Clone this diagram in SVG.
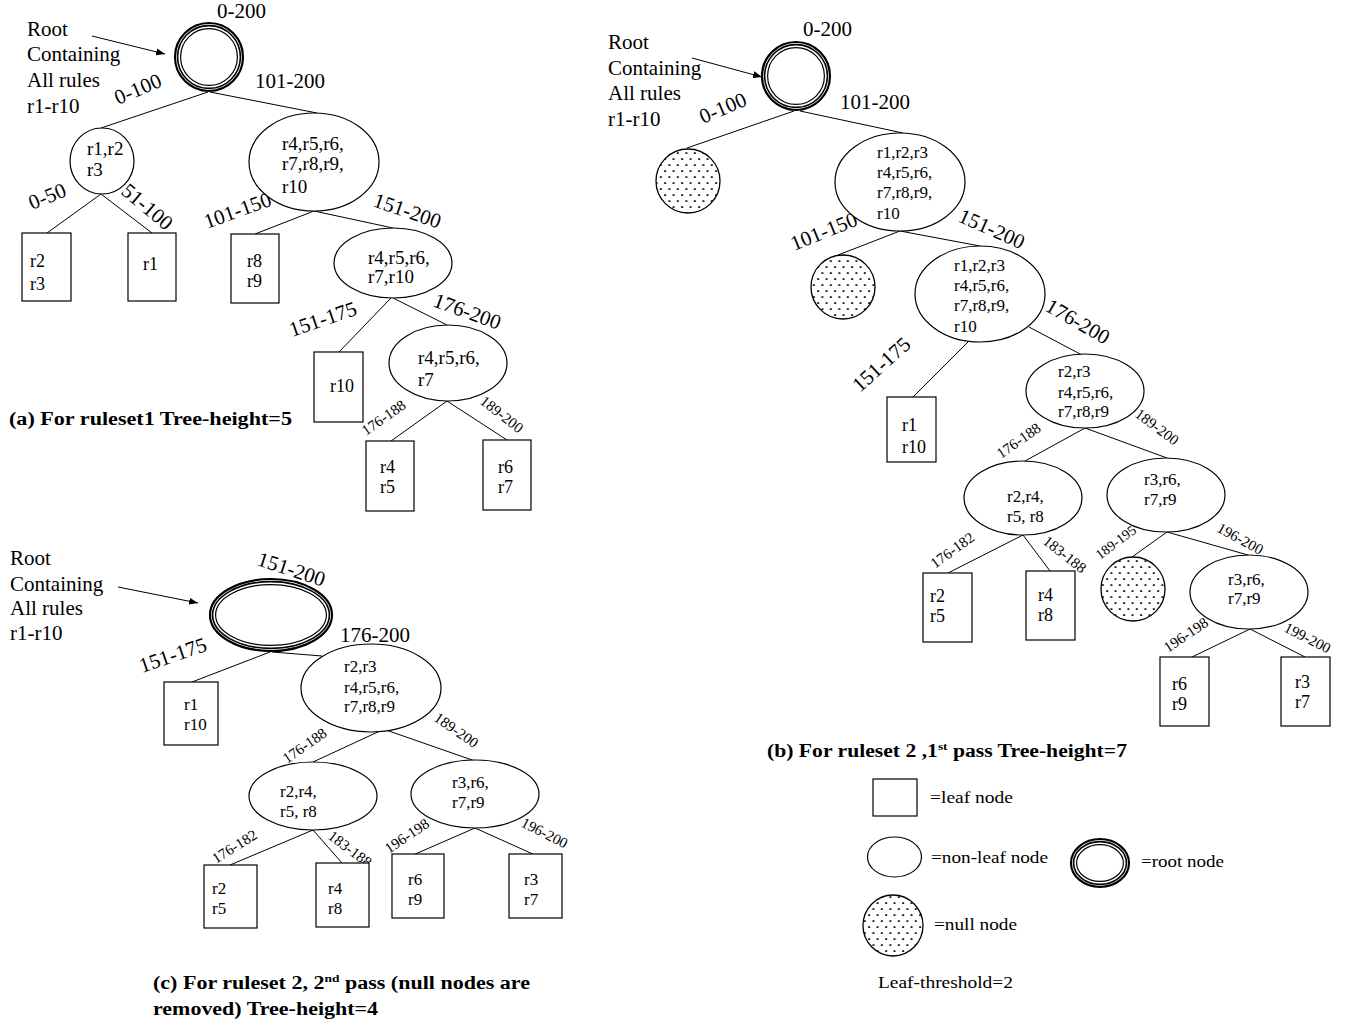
<svg xmlns="http://www.w3.org/2000/svg" width="1362" height="1027" viewBox="0 0 1362 1027">
<style>
text{font-family:"Liberation Serif","Times New Roman",serif;fill:#000}
.lbl{font-size:21px}
.sm{font-size:15px}
.xs{font-size:14px}
.na{font-size:19px}
.nb{font-size:17px}
.lf{font-size:18px}
.cap{font-size:18px;font-weight:bold}
.leg{font-size:17px}
.edge{stroke:#000;stroke-width:1;fill:none}
.node{fill:#fff;stroke:#000;stroke-width:1.2}
.null{fill:url(#dots);stroke:#000;stroke-width:1.3}
.r1{fill:#fff;stroke:#000;stroke-width:2.2}
.r2{fill:none;stroke:#000;stroke-width:1.6}
.r3{fill:none;stroke:#000;stroke-width:1.2}
</style>
<defs>
<pattern id="dots" patternUnits="userSpaceOnUse" width="8.5" height="12">
<rect width="8.5" height="12" fill="#fff"/>
<rect x="1.2" y="2.2" width="1.8" height="1.8" fill="#000"/>
<rect x="5.45" y="8.2" width="1.8" height="1.8" fill="#000"/>
</pattern>
<marker id="arr" markerUnits="userSpaceOnUse" markerWidth="9" markerHeight="7" refX="9" refY="3.5" orient="auto">
<path d="M0,0 L9,3.5 L0,7 z" fill="#000"/>
</marker>
</defs>
<rect width="1362" height="1027" fill="#fff"/>

<!-- ============ connectors ============ -->
<g id="connectors">
<!-- (a) -->
<line class="edge" x1="208" y1="92" x2="101" y2="128"/>
<line class="edge" x1="210" y1="92" x2="317" y2="113"/>
<line class="edge" x1="101" y1="194" x2="47" y2="233"/>
<line class="edge" x1="101" y1="194" x2="152" y2="233"/>
<line class="edge" x1="314" y1="211" x2="255" y2="234"/>
<line class="edge" x1="314" y1="211" x2="393" y2="228"/>
<line class="edge" x1="391" y1="298" x2="339" y2="352"/>
<line class="edge" x1="393" y1="298" x2="447" y2="325"/>
<line class="edge" x1="447" y1="401" x2="391" y2="441"/>
<line class="edge" x1="447" y1="401" x2="507" y2="440"/>
<line class="edge" x1="92" y1="36" x2="165" y2="54" marker-end="url(#arr)"/>
<!-- (b) -->
<line class="edge" x1="794" y1="111" x2="687" y2="148"/>
<line class="edge" x1="800" y1="111" x2="903" y2="133"/>
<line class="edge" x1="900" y1="231" x2="838" y2="255"/>
<line class="edge" x1="900" y1="231" x2="980" y2="246"/>
<line class="edge" x1="968" y1="342" x2="913" y2="397"/>
<line class="edge" x1="1029" y1="327" x2="1082" y2="355"/>
<line class="edge" x1="1085" y1="428" x2="1025" y2="461"/>
<line class="edge" x1="1085" y1="428" x2="1167" y2="458"/>
<line class="edge" x1="1023" y1="535" x2="948" y2="573"/>
<line class="edge" x1="1023" y1="535" x2="1050" y2="571"/>
<line class="edge" x1="1167" y1="532" x2="1132" y2="557"/>
<line class="edge" x1="1167" y1="532" x2="1248" y2="555"/>
<line class="edge" x1="1250" y1="629" x2="1192" y2="657"/>
<line class="edge" x1="1250" y1="629" x2="1305" y2="657"/>
<line class="edge" x1="692" y1="58" x2="762" y2="77" marker-end="url(#arr)"/>
<!-- (c) -->
<line class="edge" x1="270" y1="652" x2="192" y2="682"/>
<line class="edge" x1="272" y1="652" x2="322" y2="656"/>
<line class="edge" x1="380" y1="731" x2="313" y2="762"/>
<line class="edge" x1="386" y1="730" x2="475" y2="761"/>
<line class="edge" x1="313" y1="830" x2="230" y2="865"/>
<line class="edge" x1="313" y1="830" x2="342" y2="863"/>
<line class="edge" x1="475" y1="828" x2="413" y2="855"/>
<line class="edge" x1="475" y1="828" x2="535" y2="855"/>
<line class="edge" x1="118" y1="587" x2="198" y2="603" marker-end="url(#arr)"/>

<!-- edge labels (a) -->
<text class="lbl" x="217" y="18">0-200</text>
<text class="lbl" x="255" y="88">101-200</text>
<text class="lbl" transform="translate(118,105) rotate(-23)">0-100</text>
<text class="lbl" transform="translate(32,210) rotate(-22)">0-50</text>
<text class="lbl" transform="translate(120,193) rotate(40)">51-100</text>
<text class="lbl" transform="translate(207,229) rotate(-20)">101-150</text>
<text class="lbl" transform="translate(372,206) rotate(19)">151-200</text>
<text class="lbl" transform="translate(292,337) rotate(-19)">151-175</text>
<text class="lbl" transform="translate(432,306) rotate(20)">176-200</text>
<text class="sm" transform="translate(366,436) rotate(-35)">176-188</text>
<text class="sm" transform="translate(479,403) rotate(38)">189-200</text>
<!-- edge labels (b) -->
<text class="lbl" x="803" y="36">0-200</text>
<text class="lbl" x="840" y="109">101-200</text>
<text class="lbl" transform="translate(703,124) rotate(-23)">0-100</text>
<text class="lbl" transform="translate(794,251) rotate(-22)">101-150</text>
<text class="lbl" transform="translate(957,221) rotate(24)">151-200</text>
<text class="lbl" transform="translate(860,393) rotate(-42)">151-175</text>
<text class="lbl" transform="translate(1044,310) rotate(30)">176-200</text>
<text class="sm" transform="translate(1001,459) rotate(-35)">176-188</text>
<text class="sm" transform="translate(1134,416) rotate(37)">189-200</text>
<text class="sm" transform="translate(935,569) rotate(-36)">176-182</text>
<text class="sm" transform="translate(1042,543) rotate(38)">183-188</text>
<text class="xs" transform="translate(1100,560) rotate(-37)">189-195</text>
<text class="sm" transform="translate(1216,531) rotate(29)">196-200</text>
<text class="sm" transform="translate(1168,653) rotate(-34)">196-198</text>
<text class="sm" transform="translate(1283,631) rotate(27)">199-200</text>
<!-- edge labels (c) -->
<text class="lbl" transform="translate(256,565) rotate(18)">151-200</text>
<text class="lbl" x="340" y="642">176-200</text>
<text class="lbl" transform="translate(142,673) rotate(-19)">151-175</text>
<text class="sm" transform="translate(287,764) rotate(-35)">176-188</text>
<text class="sm" transform="translate(433,720) rotate(35)">189-200</text>
<text class="sm" transform="translate(216,864) rotate(-32)">176-182</text>
<text class="sm" transform="translate(327,838) rotate(37)">183-188</text>
<text class="sm" transform="translate(389,854) rotate(-34)">196-198</text>
<text class="sm" transform="translate(520,826) rotate(27)">196-200</text>
</g>

<!-- ============ tree (a) ============ -->
<g id="a-rootnote">
<text class="lbl" x="27" y="36">Root</text>
<text class="lbl" x="27" y="61">Containing</text>
<text class="lbl" x="27" y="87">All rules</text>
<text class="lbl" x="27" y="113">r1-r10</text>
</g>
<g id="a-root">
<circle class="r1" cx="209" cy="57" r="34"/>
<circle class="r2" cx="209" cy="57" r="31.4"/>
<circle class="r3" cx="209" cy="57" r="28.4"/>
</g>
<g id="a-n1">
<ellipse class="node" cx="102" cy="161" rx="32" ry="33"/>
<text class="na" x="87" y="155">r1,r2</text>
<text class="na" x="87" y="176">r3</text>
</g>
<g id="a-n2">
<ellipse class="node" cx="314" cy="162" rx="65" ry="49"/>
<text class="na" x="282" y="150">r4,r5,r6,</text>
<text class="na" x="282" y="170">r7,r8,r9,</text>
<text class="na" x="282" y="193">r10</text>
</g>
<g id="a-leaf-r2r3">
<rect class="node" x="22" y="233" width="49" height="68"/>
<text class="lf" x="30" y="267">r2</text>
<text class="lf" x="30" y="290">r3</text>
</g>
<g id="a-leaf-r1">
<rect class="node" x="128" y="233" width="48" height="68"/>
<text class="lf" x="143" y="270">r1</text>
</g>
<g id="a-leaf-r8r9">
<rect class="node" x="231" y="234" width="48" height="69"/>
<text class="lf" x="247" y="267">r8</text>
<text class="lf" x="247" y="287">r9</text>
</g>
<g id="a-n3">
<ellipse class="node" cx="393" cy="263" rx="59" ry="35"/>
<text class="na" x="368" y="264">r4,r5,r6,</text>
<text class="na" x="368" y="283">r7,r10</text>
</g>
<g id="a-leaf-r10">
<rect class="node" x="314" y="352" width="49" height="70"/>
<text class="lf" x="330" y="392">r10</text>
</g>
<g id="a-n4">
<ellipse class="node" cx="448" cy="363" rx="59" ry="38"/>
<text class="na" x="418" y="364">r4,r5,r6,</text>
<text class="na" x="418" y="386">r7</text>
</g>
<g id="a-leaf-r4r5">
<rect class="node" x="366" y="441" width="48" height="70"/>
<text class="lf" x="380" y="473">r4</text>
<text class="lf" x="380" y="493">r5</text>
</g>
<g id="a-leaf-r6r7">
<rect class="node" x="483" y="440" width="48" height="70"/>
<text class="lf" x="498" y="473">r6</text>
<text class="lf" x="498" y="493">r7</text>
</g>
<text class="cap" x="9" y="425" textLength="283" lengthAdjust="spacingAndGlyphs">(a) For ruleset1 Tree-height=5</text>

<!-- ============ tree (b) ============ -->
<g id="b-rootnote">
<text class="lbl" x="608" y="49">Root</text>
<text class="lbl" x="608" y="75">Containing</text>
<text class="lbl" x="608" y="100">All rules</text>
<text class="lbl" x="608" y="126">r1-r10</text>
</g>
<g id="b-root">
<circle class="r1" cx="796" cy="76" r="34"/>
<circle class="r2" cx="796" cy="76" r="31.4"/>
<circle class="r3" cx="796" cy="76" r="28.4"/>
</g>
<g id="b-null1"><circle class="null" cx="688" cy="181" r="32"/></g>
<g id="b-n1">
<ellipse class="node" cx="900" cy="182" rx="65" ry="49"/>
<text class="nb" x="877" y="158">r1,r2,r3</text>
<text class="nb" x="877" y="178">r4,r5,r6,</text>
<text class="nb" x="877" y="198">r7,r8,r9,</text>
<text class="nb" x="877" y="219">r10</text>
</g>
<g id="b-null2"><circle class="null" cx="843" cy="287" r="32"/></g>
<g id="b-n2">
<ellipse class="node" cx="980" cy="294" rx="65" ry="48"/>
<text class="nb" x="954" y="271">r1,r2,r3</text>
<text class="nb" x="954" y="291">r4,r5,r6,</text>
<text class="nb" x="954" y="311">r7,r8,r9,</text>
<text class="nb" x="954" y="332">r10</text>
</g>
<g id="b-leaf-r1r10">
<rect class="node" x="887" y="397" width="49" height="65"/>
<text class="lf" x="902" y="431">r1</text>
<text class="lf" x="902" y="453">r10</text>
</g>
<g id="b-n3">
<ellipse class="node" cx="1085" cy="391" rx="59" ry="37"/>
<text class="nb" x="1058" y="377">r2,r3</text>
<text class="nb" x="1058" y="398">r4,r5,r6,</text>
<text class="nb" x="1058" y="417">r7,r8,r9</text>
</g>
<g id="b-n4">
<ellipse class="node" cx="1023" cy="498" rx="59" ry="37"/>
<text class="nb" x="1007" y="502">r2,r4,</text>
<text class="nb" x="1007" y="522">r5, r8</text>
</g>
<g id="b-n5">
<ellipse class="node" cx="1166" cy="495" rx="59" ry="37"/>
<text class="nb" x="1144" y="485">r3,r6,</text>
<text class="nb" x="1144" y="505">r7,r9</text>
</g>
<g id="b-leaf-r2r5">
<rect class="node" x="923" y="573" width="49" height="69"/>
<text class="lf" x="930" y="602">r2</text>
<text class="lf" x="930" y="622">r5</text>
</g>
<g id="b-leaf-r4r8">
<rect class="node" x="1026" y="571" width="49" height="69"/>
<text class="lf" x="1038" y="601">r4</text>
<text class="lf" x="1038" y="621">r8</text>
</g>
<g id="b-null3"><circle class="null" cx="1133" cy="589" r="32"/></g>
<g id="b-n6">
<ellipse class="node" cx="1249" cy="592" rx="59" ry="37"/>
<text class="nb" x="1228" y="585">r3,r6,</text>
<text class="nb" x="1228" y="604">r7,r9</text>
</g>
<g id="b-leaf-r6r9">
<rect class="node" x="1160" y="657" width="49" height="69"/>
<text class="lf" x="1172" y="690">r6</text>
<text class="lf" x="1172" y="710">r9</text>
</g>
<g id="b-leaf-r3r7">
<rect class="node" x="1281" y="657" width="49" height="69"/>
<text class="lf" x="1295" y="688">r3</text>
<text class="lf" x="1295" y="708">r7</text>
</g>
<text class="cap" x="767" y="757" textLength="360" lengthAdjust="spacingAndGlyphs">(b) For ruleset 2 ,1<tspan font-size="11" dy="-7">st</tspan><tspan dy="7"> pass Tree-height=7</tspan></text>

<!-- ============ legend ============ -->
<g id="legend-leaf">
<rect class="node" x="873" y="779" width="44" height="37"/>
<text class="leg" x="930" y="803" textLength="83" lengthAdjust="spacingAndGlyphs">=leaf node</text>
</g>
<g id="legend-nonleaf">
<ellipse class="node" cx="894.5" cy="857" rx="27" ry="20"/>
<text class="leg" x="931" y="863" textLength="117" lengthAdjust="spacingAndGlyphs">=non-leaf node</text>
</g>
<g id="legend-root">
<ellipse class="r1" cx="1100" cy="863" rx="29" ry="24"/>
<ellipse class="r2" cx="1100" cy="863" rx="26.4" ry="21.4"/>
<ellipse class="r3" cx="1100" cy="863" rx="23.4" ry="18.4"/>
<text class="leg" x="1141" y="867" textLength="83" lengthAdjust="spacingAndGlyphs">=root node</text>
</g>
<g id="legend-null">
<ellipse class="null" cx="893" cy="925.5" rx="30" ry="30.5"/>
<text class="leg" x="934" y="930" textLength="83" lengthAdjust="spacingAndGlyphs">=null node</text>
</g>
<text class="leg" x="878" y="988" textLength="135" lengthAdjust="spacingAndGlyphs">Leaf-threshold=2</text>

<!-- ============ tree (c) ============ -->
<g id="c-rootnote">
<text class="lbl" x="10" y="565">Root</text>
<text class="lbl" x="10" y="591">Containing</text>
<text class="lbl" x="10" y="615">All rules</text>
<text class="lbl" x="10" y="640">r1-r10</text>
</g>
<g id="c-root">
<ellipse class="r1" cx="271" cy="615" rx="61" ry="36"/>
<ellipse class="r2" cx="271" cy="615" rx="58.4" ry="33.4"/>
<ellipse class="r3" cx="271" cy="615" rx="55.4" ry="30.4"/>
</g>
<g id="c-leaf-r1r10">
<rect class="node" x="164" y="682" width="54" height="63"/>
<text class="nb" x="184" y="710">r1</text>
<text class="nb" x="184" y="730">r10</text>
</g>
<g id="c-n1">
<ellipse class="node" cx="371" cy="688" rx="70" ry="44"/>
<text class="nb" x="344" y="672">r2,r3</text>
<text class="nb" x="344" y="693">r4,r5,r6,</text>
<text class="nb" x="344" y="712">r7,r8,r9</text>
</g>
<g id="c-n2">
<ellipse class="node" cx="313" cy="796" rx="64" ry="34"/>
<text class="nb" x="280" y="797">r2,r4,</text>
<text class="nb" x="280" y="817">r5, r8</text>
</g>
<g id="c-n3">
<ellipse class="node" cx="475" cy="794" rx="64" ry="34"/>
<text class="nb" x="452" y="788">r3,r6,</text>
<text class="nb" x="452" y="808">r7,r9</text>
</g>
<g id="c-leaf-r2r5">
<rect class="node" x="204" y="865" width="53" height="63"/>
<text class="nb" x="212" y="894">r2</text>
<text class="nb" x="212" y="914">r5</text>
</g>
<g id="c-leaf-r4r8">
<rect class="node" x="316" y="863" width="53" height="64"/>
<text class="nb" x="328" y="894">r4</text>
<text class="nb" x="328" y="914">r8</text>
</g>
<g id="c-leaf-r6r9">
<rect class="node" x="392" y="854" width="52" height="64"/>
<text class="nb" x="408" y="885">r6</text>
<text class="nb" x="408" y="905">r9</text>
</g>
<g id="c-leaf-r3r7">
<rect class="node" x="509" y="854" width="53" height="64"/>
<text class="nb" x="524" y="885">r3</text>
<text class="nb" x="524" y="905">r7</text>
</g>
<text class="cap" x="153" y="989" textLength="377" lengthAdjust="spacingAndGlyphs">(c) For ruleset 2, 2<tspan font-size="11" dy="-7">nd</tspan><tspan dy="7"> pass (null nodes are</tspan></text>
<text class="cap" x="153" y="1015" textLength="225" lengthAdjust="spacingAndGlyphs">removed) Tree-height=4</text>
</svg>
